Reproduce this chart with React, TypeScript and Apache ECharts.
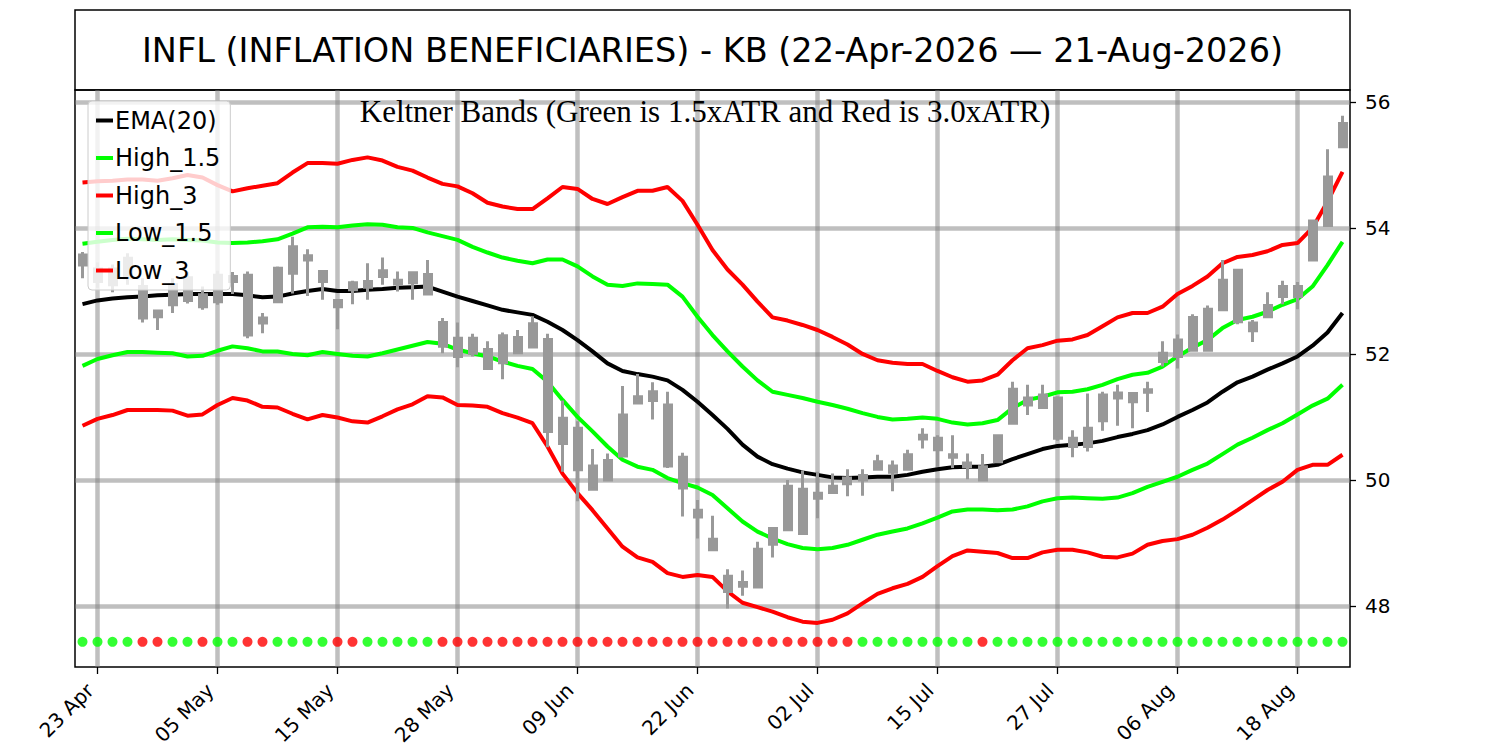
import { useEffect, useRef } from "react";
import * as echarts from "echarts";

const dates = [
  "2026-04-22", "2026-04-23", "2026-04-24", "2026-04-27", "2026-04-28", "2026-04-29", "2026-04-30",
  "2026-05-01", "2026-05-04", "2026-05-05", "2026-05-06", "2026-05-07", "2026-05-08", "2026-05-11",
  "2026-05-12", "2026-05-13", "2026-05-14", "2026-05-15", "2026-05-18", "2026-05-19", "2026-05-20",
  "2026-05-21", "2026-05-22", "2026-05-26", "2026-05-27", "2026-05-28", "2026-05-29", "2026-06-01",
  "2026-06-02", "2026-06-03", "2026-06-04", "2026-06-05", "2026-06-08", "2026-06-09", "2026-06-10",
  "2026-06-11", "2026-06-12", "2026-06-15", "2026-06-16", "2026-06-17", "2026-06-18", "2026-06-22",
  "2026-06-23", "2026-06-24", "2026-06-25", "2026-06-26", "2026-06-29", "2026-06-30", "2026-07-01",
  "2026-07-02", "2026-07-06", "2026-07-07", "2026-07-08", "2026-07-09", "2026-07-10", "2026-07-13",
  "2026-07-14", "2026-07-15", "2026-07-16", "2026-07-17", "2026-07-20", "2026-07-21", "2026-07-22",
  "2026-07-23", "2026-07-24", "2026-07-27", "2026-07-28", "2026-07-29", "2026-07-30", "2026-07-31",
  "2026-08-03", "2026-08-04", "2026-08-05", "2026-08-06", "2026-08-07", "2026-08-10", "2026-08-11",
  "2026-08-12", "2026-08-13", "2026-08-14", "2026-08-17", "2026-08-18", "2026-08-19", "2026-08-20",
  "2026-08-21",
];

// [open, close, low, high]
const candles = [
  [53.41, 53.57, 53.2, 53.62], [53.15, 53.35, 53.05, 53.45], [53.35, 53.1, 52.98, 53.42], [53.21, 53.52, 53.1, 53.6],
  [53.07, 52.57, 52.5, 53.2], [52.68, 52.59, 52.38, 52.7], [52.78, 53.1, 52.65, 53.2], [52.85, 53.21, 52.8, 53.3],
  [52.94, 52.75, 52.7, 53.07], [52.83, 53.25, 52.78, 53.32], [53.23, 53.15, 52.95, 53.3], [53.25, 52.3, 52.25, 53.31],
  [52.49, 52.57, 52.33, 52.65], [52.83, 53.36, 52.83, 53.39], [53.28, 53.7, 52.96, 53.86], [53.56, 53.49, 52.92, 53.66],
  [53.31, 53.15, 52.86, 53.33], [52.85, 52.75, 52.39, 52.86], [53.02, 53.13, 52.79, 53.16], [53.06, 53.15, 52.86, 53.44],
  [53.23, 53.32, 53.1, 53.53], [53.17, 53.11, 52.99, 53.31], [53.13, 53.29, 52.86, 53.31], [53.26, 52.95, 52.94, 53.49],
  [52.5, 52.12, 52.01, 52.57], [52.25, 51.96, 51.79, 52.5], [52.01, 52.25, 51.96, 52.32], [52.07, 51.77, 51.77, 52.2],
  [51.86, 52.29, 51.6, 52.34], [52.02, 52.26, 52.02, 52.38], [52.11, 52.48, 52.11, 52.6], [52.23, 50.77, 50.52, 52.32],
  [50.98, 50.58, 50.13, 51.26], [50.82, 50.16, 49.66, 50.93], [49.85, 50.22, 49.85, 50.49], [50.0, 50.31, 49.99, 50.42],
  [50.38, 51.03, 50.38, 51.49], [51.22, 51.32, 51.22, 51.68], [51.4, 51.26, 50.96, 51.55], [51.19, 50.22, 50.19, 51.4],
  [50.36, 49.87, 49.42, 50.43], [49.52, 49.41, 49.07, 49.68], [49.06, 48.89, 48.89, 49.43], [48.23, 48.47, 47.96, 48.58],
  [48.31, 48.37, 48.16, 48.56], [48.3, 48.9, 48.3, 49.02], [48.98, 49.23, 48.77, 49.23], [49.21, 49.9, 49.2, 50.0],
  [49.85, 49.15, 49.15, 50.15], [49.71, 49.79, 49.39, 50.13], [49.8, 49.9, 49.79, 50.1], [49.94, 50.03, 49.74, 50.17],
  [50.0, 50.07, 49.75, 50.17], [50.17, 50.29, 50.17, 50.4], [50.22, 50.12, 49.82, 50.31], [50.17, 50.4, 50.17, 50.48],
  [50.65, 50.71, 50.5, 50.82], [50.66, 50.48, 50.21, 50.71], [50.4, 50.36, 50.19, 50.71], [50.27, 50.21, 50.01, 50.42],
  [50.21, 50.0, 50.0, 50.41], [50.29, 50.7, 50.29, 50.71], [50.9, 51.44, 50.9, 51.56], [51.19, 51.3, 51.03, 51.51],
  [51.15, 51.35, 51.15, 51.51], [51.3, 50.66, 50.62, 51.33], [50.53, 50.66, 50.36, 50.79], [50.53, 50.82, 50.45, 51.37],
  [50.94, 51.35, 50.78, 51.4], [51.3, 51.38, 50.86, 51.51], [51.37, 51.24, 50.82, 51.39], [51.39, 51.43, 51.08, 51.56],
  [51.88, 52.01, 51.8, 52.2], [51.96, 52.22, 51.77, 52.31], [52.06, 52.58, 52.06, 52.63], [52.06, 52.71, 52.04, 52.77],
  [52.7, 53.17, 52.7, 53.49], [53.33, 52.51, 52.47, 53.33], [52.49, 52.37, 52.19, 52.54], [52.59, 52.77, 52.59, 52.98],
  [52.91, 53.07, 52.79, 53.16], [53.07, 52.91, 52.71, 53.14], [53.49, 54.11, 53.49, 54.13], [54.04, 54.81, 54.04, 55.25],
  [55.29, 55.66, 55.29, 55.78],
];

const ema20 = [
  52.79, 52.85, 52.88, 52.9, 52.91, 52.93, 52.94, 52.95, 52.95, 52.95, 52.95, 52.93, 52.9, 52.91, 52.96,
  53.0, 53.03, 53.0, 53.0, 53.02, 53.03, 53.05, 53.06, 53.07, 52.99, 52.91, 52.84, 52.77, 52.7, 52.66,
  52.62, 52.51, 52.38, 52.22, 52.04, 51.85, 51.73, 51.68, 51.64, 51.58, 51.43, 51.24, 51.03, 50.81, 50.56,
  50.37, 50.25, 50.18, 50.12, 50.08, 50.04, 50.03, 50.04, 50.05, 50.05, 50.08, 50.13, 50.17, 50.2, 50.21,
  50.21, 50.24, 50.33, 50.41, 50.49, 50.54, 50.56, 50.58, 50.62, 50.68, 50.73, 50.79, 50.88, 51.0, 51.11,
  51.23, 51.4, 51.55, 51.64, 51.75, 51.85, 51.96, 52.13, 52.34, 52.65,
];

const high15 = [
  53.75, 53.78, 53.81, 53.83, 53.82, 53.81, 53.82, 53.81, 53.8, 53.77, 53.76, 53.77, 53.79, 53.82, 53.91,
  54.01, 54.02, 54.01, 54.04, 54.06, 54.05, 54.01, 54.0, 53.93, 53.87, 53.81, 53.7, 53.61, 53.53, 53.48,
  53.44, 53.5, 53.5, 53.39, 53.23, 53.1, 53.08, 53.12, 53.11, 53.1, 52.91, 52.59, 52.3, 52.04, 51.8,
  51.58, 51.4, 51.35, 51.3, 51.24, 51.19, 51.13, 51.06, 51.0, 50.96, 50.97, 50.99, 50.97, 50.91, 50.88,
  50.9, 50.95, 51.14, 51.27, 51.32, 51.39, 51.4, 51.44, 51.51, 51.6, 51.67, 51.7, 51.8, 51.96, 52.1,
  52.22, 52.41, 52.54, 52.59, 52.67, 52.78, 52.87, 53.07, 53.41, 53.78,
];

const high3 = [
  54.72, 54.74, 54.75, 54.77, 54.77, 54.75, 54.79, 54.84, 54.8, 54.68, 54.58, 54.63, 54.67, 54.71, 54.88,
  55.03, 55.03, 55.02, 55.08, 55.12, 55.07, 54.97, 54.91, 54.8, 54.7, 54.66, 54.55, 54.4, 54.34, 54.3,
  54.3, 54.47, 54.65, 54.62, 54.46, 54.38, 54.49, 54.59, 54.59, 54.65, 54.43, 54.05, 53.65, 53.34, 53.1,
  52.83, 52.58, 52.53, 52.46, 52.38, 52.27, 52.15, 52.0, 51.9, 51.86, 51.84, 51.84, 51.73, 51.63, 51.56,
  51.58, 51.67, 51.9, 52.09, 52.14, 52.21, 52.23, 52.3, 52.44, 52.58, 52.65, 52.65, 52.75, 52.95, 53.08,
  53.23, 53.44, 53.54, 53.57, 53.63, 53.73, 53.76, 54.0, 54.42, 54.89,
];

const low15 = [
  51.81, 51.92, 51.98, 52.03, 52.03, 52.02, 52.01, 51.96, 51.97, 52.05, 52.12, 52.09, 52.04, 52.04, 52.0,
  51.98, 52.03, 52.0, 51.97, 51.96, 52.01, 52.07, 52.13, 52.19, 52.16, 52.07, 52.01, 51.96, 51.88, 51.81,
  51.76, 51.56, 51.27, 51.0, 50.77, 50.53, 50.32, 50.21, 50.16, 50.03, 49.95, 49.88, 49.76, 49.55, 49.34,
  49.18, 49.07, 48.98, 48.92, 48.9, 48.92, 48.97, 49.05, 49.13, 49.18, 49.23, 49.31, 49.4, 49.5, 49.53,
  49.53, 49.52, 49.53, 49.58, 49.66, 49.71, 49.72, 49.71, 49.7, 49.72, 49.79, 49.89, 49.97, 50.05, 50.16,
  50.26, 50.41, 50.56, 50.67, 50.79, 50.9, 51.04, 51.18, 51.29, 51.51,
];

const low3 = [
  50.86, 50.97, 51.03, 51.11, 51.11, 51.11, 51.1, 51.02, 51.04, 51.19, 51.3, 51.26, 51.16, 51.15, 51.05,
  50.96, 51.03, 50.99, 50.93, 50.91, 51.01, 51.12, 51.2, 51.33, 51.31, 51.19, 51.18, 51.16, 51.06, 50.99,
  50.9, 50.53, 50.1, 49.79, 49.52, 49.23, 48.94, 48.77, 48.7, 48.52, 48.46, 48.49, 48.46, 48.23, 48.05,
  47.98, 47.91, 47.82, 47.75, 47.73, 47.78, 47.88, 48.04, 48.19, 48.28, 48.35, 48.46, 48.63, 48.79, 48.88,
  48.86, 48.84, 48.76, 48.76, 48.85, 48.89, 48.89, 48.85, 48.78, 48.77, 48.83, 48.97, 49.03, 49.06, 49.13,
  49.24, 49.37, 49.52, 49.68, 49.84, 49.97, 50.16, 50.24, 50.24, 50.4,
];

const signals = [
  "G", "G", "G", "G", "R", "R", "G", "G", "R", "G", "G", "R", "R", "G", "G", "G", "G", "R", "R", "G",
  "G", "G", "G", "G", "R", "R", "R", "R", "R", "R", "R", "R", "R", "R", "R", "R", "R", "R", "R", "R",
  "R", "R", "R", "R", "R", "R", "R", "R", "R", "R", "R", "R", "G", "G", "G", "G", "G", "G", "G", "G",
  "R", "G", "G", "G", "G", "G", "G", "G", "G", "G", "G", "G", "G", "G", "G", "G", "G", "G", "G", "G",
  "G", "G", "G", "G", "G",
];
const signalLevel = 47.43;

const yTicks = [48, 50, 52, 54, 56];
const yMin = 47.03;
const yMax = 56.19;
const labelStep = 8;
const labelStart = 1;

const titleText = "INFL (INFLATION BENEFICIARIES) - KB (22-Apr-2026 \u2014 21-Aug-2026)";
const subtitleText = "Keltner Bands (Green is 1.5xATR and Red is 3.0xATR)";
const MONTHS = ["Jan", "Feb", "Mar", "Apr", "May", "Jun", "Jul", "Aug", "Sep", "Oct", "Nov", "Dec"];

const GREEN = "#00ff00";
const RED = "#ff0000";
const GRAY = "#999999";
const GRID = "rgba(128,128,128,0.5)";
const FONT = "DejaVu Sans";

const showIdx = (i: number) => i % labelStep === labelStart;

export default function App() {
  const ref = useRef<HTMLDivElement>(null);
  useEffect(() => {
    if (!ref.current) return;
    const chart = echarts.init(ref.current, null, { renderer: "svg" });
    const line = (name: string, data: number[], color: string) => ({
      type: "line",
      name,
      data,
      symbol: "none",
      z: 2,
      silent: true,
      lineStyle: { color, width: 4 },
      itemStyle: { color },
      emphasis: { disabled: true },
    });
    const option: any = {
      animation: false,
      grid: {
        left: 75, right: 150, top: 90, bottom: 83,
        show: true, borderColor: "#000", borderWidth: 1.5, backgroundColor: "transparent",
      },
      legend: {
        show: true,
        orient: "vertical",
        left: 88,
        top: 101,
        selectedMode: false,
        icon: "rect",
        itemWidth: 17,
        itemHeight: 4,
        itemGap: 13.5,
        padding: [7.5, 10, 7.5, 8],
        backgroundColor: "rgba(255,255,255,0.8)",
        borderColor: "#cccccc",
        borderWidth: 1,
        borderRadius: 4,
        textStyle: { fontFamily: FONT, fontSize: 24, color: "#000", padding: [0, 0, 0, -3] },
        data: ["EMA(20)", "High_1.5", "High_3", "Low_1.5", "Low_3"],
      },
      xAxis: {
        type: "category",
        data: dates,
        boundaryGap: true,
        axisLine: { show: false },
        axisTick: {
          show: true, alignWithLabel: true, length: 7,
          interval: (i: number) => showIdx(i),
          lineStyle: { color: "#000", width: 1.3 },
        },
        axisLabel: {
          interval: (i: number) => showIdx(i),
          rotate: 45,
          margin: 12.5,
          padding: [0, 10.5, 0, 0],
          fontFamily: FONT,
          fontSize: 20,
          color: "#000",
          formatter: (v: string) => {
            const p = v.split("-");
            return `${p[2]} ${MONTHS[Number(p[1]) - 1]}`;
          },
        },
        splitLine: { show: false },
      },
      yAxis: {
        type: "value",
        position: "right",
        min: yMin,
        max: yMax,
        scale: true,
        axisLine: { show: false },
        axisTick: { show: true, length: 6, customValues: yTicks, lineStyle: { color: "#000", width: 1.3 } },
        axisLabel: {
          customValues: yTicks,
          margin: 15,
          fontFamily: FONT,
          fontSize: 20,
          color: "#000",
        },
        splitLine: { show: false },
      },
      graphic: [
        {
          type: "rect",
          shape: { x: 75, y: 10, width: 1275, height: 80 },
          style: { fill: "none", stroke: "#000", lineWidth: 1.5 },
          silent: true,
        },
        {
          type: "text",
          x: 712.5,
          y: 50,
          style: {
            text: titleText,
            font: `33.5px "${FONT}"`,
            fill: "#000",
            align: "center",
            verticalAlign: "middle",
          },
          silent: true,
        },
        {
          type: "text",
          x: 705,
          y: 111,
          z: 10,
          style: {
            text: subtitleText,
            font: '31px "Liberation Serif"',
            fill: "#000",
            align: "center",
            verticalAlign: "middle",
          },
          silent: true,
        },
      ],
      series: [
        line("EMA(20)", ema20, "#000000"),
        line("High_1.5", high15, GREEN),
        line("High_3", high3, RED),
        line("Low_1.5", low15, GREEN),
        line("Low_3", low3, RED),
        {
          type: "candlestick",
          name: "price",
          data: candles,
          z: 3,
          silent: true,
          barWidth: 7.5,
          itemStyle: {
            color: GRAY, color0: GRAY, borderColor: GRAY, borderColor0: GRAY,
            borderColorDoji: GRAY, borderWidth: 3,
          },
          emphasis: { disabled: true },
        },
        {
          type: "scatter",
          name: "signal",
          z: 3,
          silent: true,
          symbolSize: 10,
          data: signals.map((s, i) => ({
            value: [dates[i], signalLevel],
            itemStyle: { color: s === "G" ? GREEN : RED },
          })),
          emphasis: { disabled: true },
          markLine: {
            silent: true,
            z: 1,
            symbol: ["none", "none"],
            label: { show: false },
            emphasis: { disabled: true },
            lineStyle: { color: GRID, width: 4.5, type: "solid" },
            data: [
              ...dates.filter((_, i) => showIdx(i)).map((d) => ({ xAxis: d })),
              ...yTicks.map((v) => ({ yAxis: v })),
            ],
          },
        },
      ],
    };
    chart.setOption(option);
    return () => chart.dispose();
  }, []);
  return (
    <div
      ref={ref}
      style={{ position: "fixed", left: 0, top: 0, width: 1500, height: 750, background: "#fff" }}
    />
  );
}
